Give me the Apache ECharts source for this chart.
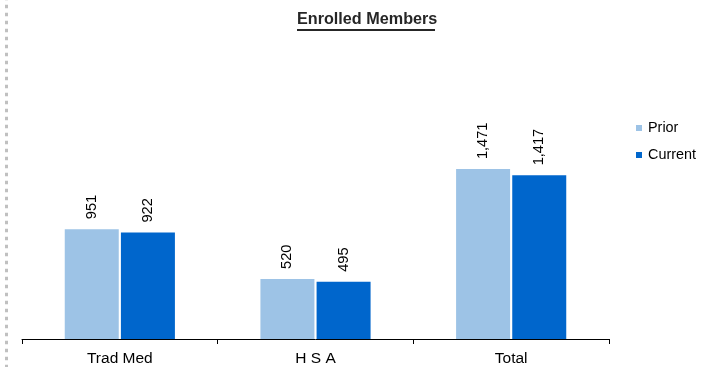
<!DOCTYPE html>
<html>
<head>
<meta charset="utf-8">
<script src="https://cdn.jsdelivr.net/npm/echarts@6/dist/echarts.min.js"></script>
<style>
  html, body { margin: 0; padding: 0; background: #ffffff; }
  #chart { width: 712px; height: 367px; }
</style>
</head>
<body>
<div id="chart"></div>
<script>
// Enrolled members by plan type
const categories = ['Trad Med', 'H S A', 'Total'];
const prior = [951, 520, 1471];
const current = [922, 495, 1417];
const seriesNames = ['Prior', 'Current'];

const FONT = '"Liberation Sans", Arial, sans-serif';
const fmt = v => v.toLocaleString('en-US');

const chart = echarts.init(document.getElementById('chart'), null, { renderer: 'canvas' });

const valueLabel = {
  show: true,
  position: 'top',
  rotate: 90,
  align: 'left',
  verticalAlign: 'middle',
  distance: 10,
  color: '#000000',
  fontFamily: FONT,
  fontSize: 14.6,
  formatter: p => fmt(p.value)
};

chart.setOption({
  animation: false,
  backgroundColor: '#ffffff',
  title: {
    text: 'Enrolled Members',
    left: 297,
    top: 12,
    padding: 0,
    textStyle: { fontFamily: FONT, fontSize: 16.2, fontWeight: 'bold', color: '#262626' }
  },
  legend: {
    orient: 'vertical',
    left: 636,
    top: 121,
    padding: 0,
    itemWidth: 6,
    itemHeight: 6,
    itemGap: 13,
    icon: 'rect',
    textStyle: { fontFamily: FONT, fontSize: 14.4, color: '#000000', padding: [0, 0, 0, 1] },
    data: seriesNames
  },
  grid: { left: 22, right: 103, top: 108, bottom: 26, containLabel: false },
  xAxis: {
    type: 'category',
    data: categories,
    axisLine: { lineStyle: { color: '#000000', width: 1 } },
    axisTick: { show: true, length: 5, lineStyle: { color: '#000000' } },
    axisLabel: { fontFamily: FONT, fontSize: 15.5, color: '#000000', margin: 12 }
  },
  yAxis: {
    type: 'value',
    min: 0,
    max: 2000,
    show: false,
    splitLine: { show: false }
  },
  series: [
    {
      name: seriesNames[0],
      type: 'bar',
      data: prior,
      barWidth: 54,
      barGap: '4%',
      itemStyle: { color: '#9DC3E6' },
      label: valueLabel
    },
    {
      name: seriesNames[1],
      type: 'bar',
      data: current,
      barWidth: 54,
      itemStyle: { color: '#0066CC' },
      label: valueLabel
    }
  ],
  graphic: [
    {
      // title underline
      type: 'rect',
      shape: { x: 297, y: 29, width: 138, height: 2 },
      style: { fill: '#262626' },
      silent: true
    },
    {
      // dotted border on the left edge
      type: 'line',
      shape: { x1: 6.5, y1: -3.3, x2: 6.5, y2: 370 },
      style: { stroke: '#c0c0c0', lineWidth: 3, lineDash: [3.5, 4.5] },
      silent: true
    }
  ]
});
</script>
</body>
</html>
